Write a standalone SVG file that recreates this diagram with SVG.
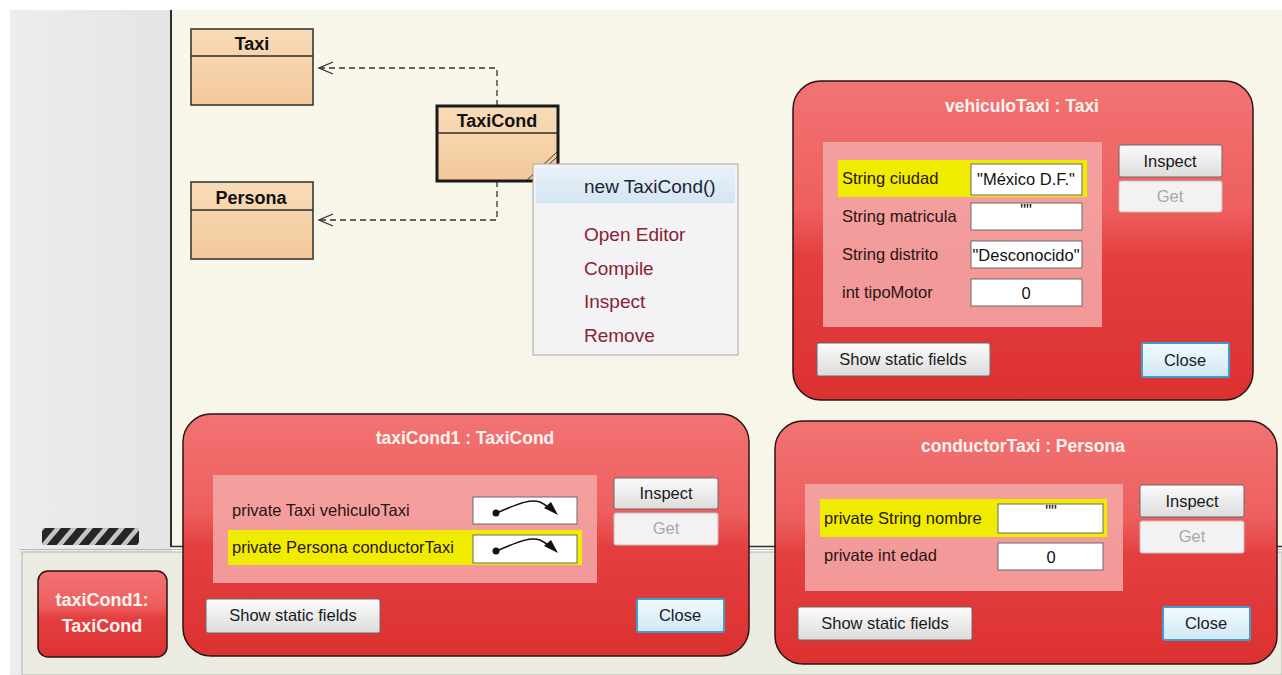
<svg xmlns="http://www.w3.org/2000/svg" width="1282" height="675" viewBox="0 0 1282 675">
  <defs>
    <style>
      .cls-box { fill: url(#classFill); stroke: #2b2b2b; stroke-width: 1.5; }
      .cls-box-sel { fill: url(#classFill); stroke: #1a1a1a; stroke-width: 3; }
      .cls-name { font-family: "Liberation Sans", Arial, sans-serif; font-weight: bold; font-size: 18px; fill: #111; text-anchor: middle; }
      .conn { fill: none; stroke: #333; stroke-width: 1.3; stroke-dasharray: 6 4; }
      .arrowhead { fill: none; stroke: #333; stroke-width: 1.3; }
      .menu-item { font-family: "Liberation Sans", Arial, sans-serif; font-size: 19px; fill: #8a2232; }
      .menu-default { font-family: "Liberation Sans", Arial, sans-serif; font-size: 19px; fill: #1d2433; }
      .insp { fill: url(#redFill); stroke: #2a1515; stroke-width: 1.5; }
      .insp-title { font-family: "Liberation Sans", Arial, sans-serif; font-weight: bold; font-size: 17.5px; fill: #fff4f0; text-anchor: middle; }
      .fields { fill: #f5a9a9; opacity: 0.85; }
      .hl { fill: #f0ec00; }
      .lbl { font-family: "Liberation Sans", Arial, sans-serif; font-size: 16.5px; fill: #2a1414; }
      .val-box { fill: #ffffff; stroke: #6a6a6a; stroke-width: 1; }
      .val { font-family: "Liberation Sans", Arial, sans-serif; font-size: 16.5px; fill: #111; text-anchor: middle; }
      .btn { fill: url(#btnFill); stroke: #6a6a6a; stroke-width: 1; }
      .btn-off { fill: #f3f1f1; stroke: #c8c0c0; stroke-width: 1; }
      .btn-close { fill: url(#closeFill); stroke: #3b9fd0; stroke-width: 2; }
      .btn-txt { font-family: "Liberation Sans", Arial, sans-serif; font-size: 16.5px; fill: #1a1a1a; text-anchor: middle; }
      .btn-txt-off { font-family: "Liberation Sans", Arial, sans-serif; font-size: 16.5px; fill: #a8a8a8; text-anchor: middle; }
      .ref-line { fill: none; stroke: #111; stroke-width: 1.5; }
      .ref-dot { fill: #111; }
      .bench-txt { font-family: "Liberation Sans", Arial, sans-serif; font-weight: bold; font-size: 18px; fill: #fff4ef; text-anchor: middle; }
    </style>
    <linearGradient id="classFill" x1="0" y1="0" x2="0" y2="1">
      <stop offset="0" stop-color="#f8dcb8"/>
      <stop offset="1" stop-color="#f3c89a"/>
    </linearGradient>
    <linearGradient id="redFill" x1="0" y1="0" x2="0" y2="1">
      <stop offset="0" stop-color="#f27373"/>
      <stop offset="0.4" stop-color="#ee5f5f"/>
      <stop offset="0.55" stop-color="#e43f3f"/>
      <stop offset="1" stop-color="#dc3131"/>
    </linearGradient>
    <linearGradient id="btnFill" x1="0" y1="0" x2="0" y2="1">
      <stop offset="0" stop-color="#fbfbfb"/>
      <stop offset="1" stop-color="#dcdcdc"/>
    </linearGradient>
    <linearGradient id="closeFill" x1="0" y1="0" x2="0" y2="1">
      <stop offset="0" stop-color="#f4fbff"/>
      <stop offset="1" stop-color="#cfe7f4"/>
    </linearGradient>
    <linearGradient id="menuHi" x1="0" y1="0" x2="0" y2="1">
      <stop offset="0" stop-color="#e8f1f9"/>
      <stop offset="1" stop-color="#d4e5f2"/>
    </linearGradient>
    <linearGradient id="leftPanel" x1="0" y1="0" x2="1" y2="0">
      <stop offset="0" stop-color="#ededed"/>
      <stop offset="1" stop-color="#e4e4e4"/>
    </linearGradient>
    <pattern id="stripes" width="16" height="18" patternUnits="userSpaceOnUse" patternTransform="skewX(-40)">
      <rect width="16" height="18" fill="#262626"/>
      <rect x="2" y="0" width="6" height="18" fill="#c4c4c4"/>
    </pattern>
  </defs>

  <!-- window background -->
  <rect x="0" y="0" width="1282" height="675" fill="#ffffff"/>
  <rect x="10" y="10" width="162" height="665" fill="url(#leftPanel)"/>
  <!-- class diagram canvas -->
  <rect x="172" y="10" width="1110" height="536" fill="#f8f5e9"/>
  <line x1="171" y1="10" x2="171" y2="547" stroke="#2e2e2e" stroke-width="2"/>
  <line x1="171" y1="546.5" x2="1282" y2="546.5" stroke="#2e2e2e" stroke-width="1.5"/>
  <line x1="20" y1="549.5" x2="1282" y2="549.5" stroke="#b8b8b8" stroke-width="1"/>
  <!-- object bench -->
  <rect x="22" y="552" width="1260" height="123" fill="#ecebe2" stroke="#b4b4ac" stroke-width="1"/>
  <!-- splitter grip -->
  <rect x="42" y="528" width="97" height="17" fill="url(#stripes)"/>

  <!-- connectors -->
  <g id="connectors">
    <path class="conn" d="M497,106 V68 H319"/>
    <path class="arrowhead" d="M333,62 L319,68 L333,74"/>
    <path class="conn" d="M497,181 V220 H319"/>
    <path class="arrowhead" d="M333,214 L319,220 L333,226"/>
  </g>

  <!-- classes -->
  <g id="class-taxi">
    <rect class="cls-box" x="191" y="29" width="122" height="76"/>
    <line x1="191" y1="56" x2="313" y2="56" stroke="#2b2b2b" stroke-width="1.5"/>
    <text class="cls-name" x="252" y="50">Taxi</text>
  </g>
  <g id="class-persona">
    <rect class="cls-box" x="191" y="182" width="122" height="77"/>
    <line x1="191" y1="210" x2="313" y2="210" stroke="#2b2b2b" stroke-width="1.5"/>
    <text class="cls-name" x="251" y="204">Persona</text>
  </g>
  <g id="class-taxicond">
    <rect class="cls-box-sel" x="437" y="106" width="121" height="75"/>
    <line x1="437" y1="133" x2="558" y2="133" stroke="#2b2b2b" stroke-width="1.5"/>
    <text class="cls-name" x="497" y="127">TaxiCond</text>
    <line x1="527" y1="180" x2="557" y2="152" stroke="#333" stroke-width="1"/>
    <line x1="532" y1="180" x2="557" y2="157" stroke="#333" stroke-width="1"/>
  </g>

  <!-- context menu -->
  <g id="context-menu">
    <rect x="533" y="164" width="205" height="191" fill="#f3f2f4" stroke="#a8a8a8" stroke-width="1"/>
    <rect x="536" y="168" width="199" height="35" fill="url(#menuHi)"/>
    <text class="menu-default" x="584" y="193">new TaxiCond()</text>
    <text class="menu-item" x="584" y="241">Open Editor</text>
    <text class="menu-item" x="584" y="275">Compile</text>
    <text class="menu-item" x="584" y="308">Inspect</text>
    <text class="menu-item" x="584" y="342">Remove</text>
  </g>

  <!-- inspector: vehiculoTaxi -->
  <g id="inspector-vehiculoTaxi">
    <rect class="insp" x="793" y="81" width="460" height="319" rx="28"/>
    <text class="insp-title" x="1022" y="112">vehiculoTaxi : Taxi</text>
    <rect class="fields" x="823" y="142" width="279" height="185"/>
    <rect class="hl" x="838" y="160" width="249" height="37"/>
    <text class="lbl" x="842" y="184">String ciudad</text>
    <rect class="val-box" x="971" y="164" width="111" height="31"/>
    <text class="val" x="1026" y="185">"México D.F."</text>
    <text class="lbl" x="842" y="222">String matricula</text>
    <rect class="val-box" x="971" y="203" width="111" height="27"/>
    <text class="val" x="1026" y="216">""</text>
    <text class="lbl" x="842" y="260">String distrito</text>
    <rect class="val-box" x="971" y="241" width="111" height="27"/>
    <text class="val" x="1026" y="261">"Desconocido"</text>
    <text class="lbl" x="842" y="298">int tipoMotor</text>
    <rect class="val-box" x="971" y="279" width="111" height="27"/>
    <text class="val" x="1026" y="299">0</text>
    <rect class="btn" x="1119" y="145" width="103" height="32" rx="2"/>
    <text class="btn-txt" x="1170" y="167">Inspect</text>
    <rect class="btn-off" x="1119" y="181" width="103" height="31" rx="2"/>
    <text class="btn-txt-off" x="1170" y="202">Get</text>
    <rect class="btn" x="817" y="343" width="173" height="33" rx="2"/>
    <text class="btn-txt" x="903" y="365">Show static fields</text>
    <rect class="btn-close" x="1142" y="343" width="87" height="34" rx="2"/>
    <text class="btn-txt" x="1185" y="366">Close</text>
  </g>

  <!-- inspector: taxiCond1 -->
  <g id="inspector-taxiCond1">
    <rect class="insp" x="183" y="414" width="566" height="242" rx="28"/>
    <text class="insp-title" x="465" y="444">taxiCond1 : TaxiCond</text>
    <rect class="fields" x="213" y="475" width="384" height="108"/>
    <text class="lbl" x="232" y="516">private Taxi vehiculoTaxi</text>
    <rect class="val-box" x="473" y="497" width="104" height="27"/>
    <circle class="ref-dot" cx="496" cy="513" r="3.5"/>
    <path class="ref-line" d="M496,513 C512,507 528,498 540,502 C545,504 548,507 550,509"/>
    <polygon class="ref-dot" points="558,515 544,508 551,502"/>
    <rect class="hl" x="228" y="530" width="354" height="35"/>
    <text class="lbl" x="232" y="553">private Persona conductorTaxi</text>
    <rect class="val-box" x="473" y="535" width="104" height="28"/>
    <circle class="ref-dot" cx="496" cy="551" r="3.5"/>
    <path class="ref-line" d="M496,551 C512,545 528,536 540,540 C545,542 548,545 550,547"/>
    <polygon class="ref-dot" points="558,553 544,546 551,540"/>
    <rect class="btn" x="614" y="478" width="104" height="31" rx="2"/>
    <text class="btn-txt" x="666" y="499">Inspect</text>
    <rect class="btn-off" x="614" y="513" width="104" height="32" rx="2"/>
    <text class="btn-txt-off" x="666" y="534">Get</text>
    <rect class="btn" x="206" y="599" width="174" height="34" rx="2"/>
    <text class="btn-txt" x="293" y="621">Show static fields</text>
    <rect class="btn-close" x="637" y="599" width="87" height="33" rx="2"/>
    <text class="btn-txt" x="680" y="621">Close</text>
  </g>

  <!-- inspector: conductorTaxi -->
  <g id="inspector-conductorTaxi">
    <rect class="insp" x="775" y="421" width="502" height="243" rx="28"/>
    <text class="insp-title" x="1023" y="452">conductorTaxi : Persona</text>
    <rect class="fields" x="805" y="484" width="318" height="107"/>
    <rect class="hl" x="820" y="499" width="287" height="38"/>
    <text class="lbl" x="824" y="524">private String nombre</text>
    <rect class="val-box" x="998" y="504" width="105" height="29"/>
    <text class="val" x="1051" y="517">""</text>
    <text class="lbl" x="824" y="561">private int edad</text>
    <rect class="val-box" x="998" y="543" width="105" height="27"/>
    <text class="val" x="1051" y="563">0</text>
    <rect class="btn" x="1140" y="485" width="104" height="32" rx="2"/>
    <text class="btn-txt" x="1192" y="507">Inspect</text>
    <rect class="btn-off" x="1140" y="521" width="104" height="32" rx="2"/>
    <text class="btn-txt-off" x="1192" y="542">Get</text>
    <rect class="btn" x="798" y="607" width="174" height="33" rx="2"/>
    <text class="btn-txt" x="885" y="629">Show static fields</text>
    <rect class="btn-close" x="1163" y="607" width="87" height="33" rx="2"/>
    <text class="btn-txt" x="1206" y="629">Close</text>
  </g>

  <!-- object on the bench -->
  <g id="bench-taxiCond1">
    <rect class="insp" x="38" y="571" width="129" height="86" rx="10"/>
    <text class="bench-txt" x="102" y="606">taxiCond1:</text>
    <text class="bench-txt" x="102" y="632">TaxiCond</text>
  </g>
</svg>
